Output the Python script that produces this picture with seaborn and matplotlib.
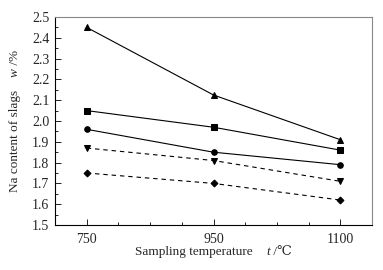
import matplotlib
matplotlib.use("Agg")
import matplotlib.pyplot as plt
import seaborn as sns
import pandas as pd
from matplotlib.ticker import MultipleLocator, FixedLocator

temps = ["750", "950", "1100"]
s_triangle = [2.45, 2.125, 1.91]
s_square = [2.05, 1.97, 1.86]
s_circle = [1.96, 1.85, 1.79]
s_down = [1.87, 1.81, 1.71]
s_diamond = [1.75, 1.70, 1.62]

xlabel_parts = [("Sampling temperature    ", "normal"), ("t", "italic"), (" /℃", "normal")]
ylabel_parts = [("Na content of slags    ", "normal"), ("w", "italic"), (" /%", "normal")]

sns.set_style("ticks")
FAM = ['Liberation Serif', 'DejaVu Serif']
plt.rcParams['font.family'] = FAM

W, H = 383, 270
fig = plt.figure(figsize=(W/100, H/100), dpi=100)
ax = fig.add_axes([55/W, 1-225/H, (372-55)/W, (225-17)/H])

DASH = (0, (4, 3.5))
series = [
    (s_triangle, '^', '-'),
    (s_square, 's', '-'),
    (s_circle, 'o', '-'),
    (s_down, 'v', DASH),
    (s_diamond, 'D', DASH),
]
xpos = list(range(len(temps)))
for vals, mk, ls in series:
    df = pd.DataFrame({"x": xpos, "y": vals})
    sns.lineplot(data=df, x="x", y="y", ax=ax, color='black', linewidth=0.8,
                 linestyle=ls, marker=mk, markersize=4 if mk != 'D' else 3.5,
                 markeredgecolor='black', markerfacecolor='black')

ax.set_xlim(-0.25, 2.25)
ax.set_ylim(1.5, 2.5)
ax.xaxis.set_major_locator(FixedLocator(xpos))
ax.set_xticklabels(temps)
ax.xaxis.set_minor_locator(MultipleLocator(0.25))
ax.yaxis.set_major_locator(MultipleLocator(0.1))
ax.yaxis.set_minor_locator(MultipleLocator(0.05))
ax.set_yticklabels([f"{v:.1f}" for v in ax.get_yticks()])
ax.tick_params(which='both', direction='in', labelsize=10, color='black', width=0.6)
ax.tick_params(which='major', length=4, pad=4)
ax.tick_params(which='minor', length=2)
ax.tick_params(axis='x', which='major', pad=6)
ax.set_xlabel("")
ax.set_ylabel("")

for side in ['left', 'bottom']:
    ax.spines[side].set_color('black')
    ax.spines[side].set_linewidth(0.8)
for side in ['top', 'right']:
    ax.spines[side].set_color('#888888')
    ax.spines[side].set_linewidth(0.8)
    ax.spines[side].set_visible(True)

fig.canvas.draw()
renderer = fig.canvas.get_renderer()
FS = 9.5

def sizes(parts, rot):
    out = []
    for s, st in parts:
        t = fig.text(0, 0, s, fontsize=FS, style=st, family=FAM, rotation=rot)
        bb = t.get_window_extent(renderer)
        out.append(bb.width if rot == 0 else bb.height)
        t.remove()
    return out

# x label, centred on axes
ws = sizes(xlabel_parts, 0)
total = sum(ws)
cx = (55 + 372) / 2
x0 = cx - total / 2
for (s, st), w in zip(xlabel_parts, ws):
    fig.text(x0 / W, 1 - 252 / H, s, fontsize=FS, style=st, family=FAM,
             ha='left', va='center')
    x0 += w

# y label, rotated, centred on axes
hs = sizes(ylabel_parts, 90)
total = sum(hs)
cy = H - (17 + 225) / 2
y0 = cy - total / 2
for (s, st), h in zip(ylabel_parts, hs):
    fig.text(15 / W, y0 / H, s, fontsize=FS, style=st, family=FAM,
             rotation=90, ha='center', va='bottom')
    y0 += h

fig.savefig("out.png", dpi=100)
